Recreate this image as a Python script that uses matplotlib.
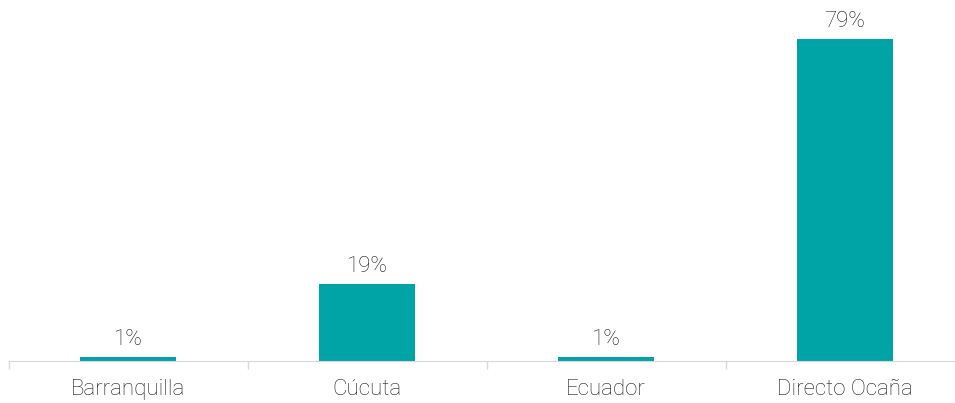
import matplotlib.pyplot as plt
import numpy as np

categories = ['Barranquilla', 'Cúcuta', 'Ecuador', 'Directo Ocaña']
shares = [1, 19, 1, 79]
labels = ['1%', '19%', '1%', '79%']

plt.rcParams['font.family'] = ['Roboto', 'DejaVu Sans']
plt.rcParams['font.weight'] = 'light'

fig = plt.figure(figsize=(9.55, 4.03), dpi=100)
# axis runs slightly past the right edge, as in the original crop
ax = fig.add_axes([8.5 / 955, 42 / 403, 956 / 955, 361 / 403])

x = np.arange(len(categories))
ax.bar(x, shares, width=0.405, color='#00A3A6')
for xi, v, lab in zip(x, shares, labels):
    ax.annotate(lab, (xi, v), xytext=(0, 5), textcoords='offset points',
                ha='center', va='bottom', fontsize=16, color='#1f1f1f',
                fontweight='light')

ax.set_xlim(-0.5, len(categories) - 0.5)
ax.set_ylim(0, 88.6)
ax.set_yticks([])
ax.set_xticks(x)
ax.set_xticklabels(categories, fontsize=16, color='#1f1f1f', fontweight='light')
ax.tick_params(axis='x', which='major', length=0, pad=13)
ax.set_xticks(np.arange(-0.5, len(categories)), minor=True)
ax.tick_params(axis='x', which='minor', length=6, color='#d9d9d9', width=1)
for side in ['top', 'right', 'left']:
    ax.spines[side].set_visible(False)
ax.spines['bottom'].set_color('#d9d9d9')

fig.savefig('out.png', dpi=100)
